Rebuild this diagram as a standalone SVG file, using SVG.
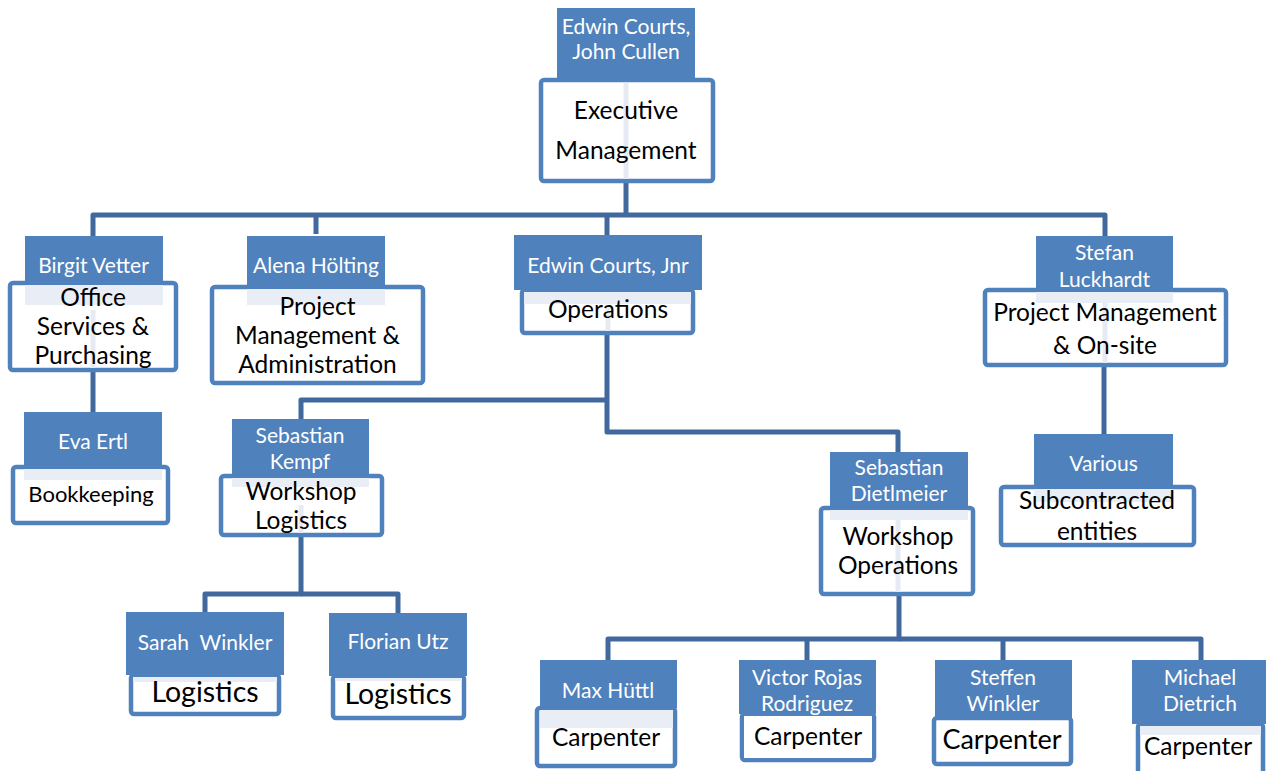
<svg xmlns="http://www.w3.org/2000/svg" width="1266" height="771" viewBox="0 0 1266 771">
<style>
.hd{fill:#4f81bd}
.bx{fill:#fff;stroke:#4f81bd;stroke-width:4.5}
.band{fill:#e9eef6}
.ghost{stroke:#e6ebf3;stroke-width:5}
.cn{fill:none;stroke:#41699d;stroke-width:5;stroke-linejoin:round}
text{font-family:Lato,"Open Sans","Liberation Sans",sans-serif;text-anchor:middle}
.n{fill:#fff;font-size:21px}
.t{fill:#000;font-size:24.5px}
.tl{fill:#000;font-size:28.5px}
.ts{fill:#000;font-size:22px}
.tc{fill:#000;font-size:27px}
</style>
<rect width="1266" height="771" fill="#fff"/>
<g id="connectors">
<path class="cn" d="M626 183 V215"/>
<path class="cn" d="M93 238 V215 H1105 V237"/>
<path class="cn" d="M316 215 V234"/>
<path class="cn" d="M607 215 V236"/>
<path class="cn" d="M93 372 V412"/>
<path class="cn" d="M1104 367 V434"/>
<path class="cn" d="M607 335 V432 H898 V452"/>
<path class="cn" d="M301 419 V400 H607"/>
<path class="cn" d="M301 537 V594 H205 V612"/>
<path class="cn" d="M301 594 H398 V613"/>
<path class="cn" d="M899 596 V639 H608 V660"/>
<path class="cn" d="M899 639 H1201 V660"/>
<path class="cn" d="M807 639 V660"/>
<path class="cn" d="M1003 639 V660"/>
</g>
<g id="n-exec">
<rect class="hd" x="557" y="8" width="138" height="70"/>
<rect class="bx" x="541" y="80" width="172" height="101" rx="3"/>
<line class="ghost" x1="626" y1="83" x2="626" y2="179"/>
<text class="n" x="626" y="34">Edwin Courts,</text>
<text class="n" x="626" y="59">John Cullen</text>
<text class="t" x="626" y="119">Executive</text>
<text class="t" x="626" y="159">Management</text>
</g>
<g id="n-office">
<rect class="hd" x="25" y="236" width="138" height="48"/>
<rect class="bx" x="10" y="283" width="166" height="87" rx="3"/>
<rect class="band" x="25" y="285" width="138" height="20"/>
<line class="ghost" x1="93" y1="310" x2="93" y2="368"/>
<text class="n" x="93.5" y="273">Birgit Vetter</text>
<text class="t" x="93" y="306">Office</text>
<text class="t" x="93" y="335">Services &amp;</text>
<text class="t" x="93" y="364">Purchasing</text>
</g>
<g id="n-pma">
<rect class="hd" x="247" y="236" width="138" height="52"/>
<rect class="bx" x="212" y="287" width="211" height="96" rx="3"/>
<rect class="band" x="247" y="289" width="138" height="16"/>
<text class="n" x="316" y="273">Alena Hölting</text>
<text class="t" x="317.5" y="315">Project</text>
<text class="t" x="317.5" y="344">Management &amp;</text>
<text class="t" x="317.5" y="373">Administration</text>
</g>
<g id="n-ops">
<rect class="hd" x="514" y="235" width="188" height="55"/>
<rect class="bx" x="522" y="290" width="171" height="43" rx="3"/>
<rect class="band" x="524" y="292" width="167" height="12"/>
<line class="ghost" x1="608" y1="305" x2="608" y2="331"/>
<text class="n" x="608" y="273">Edwin Courts, Jnr</text>
<text class="t" x="608" y="318">Operations</text>
</g>
<g id="n-pmo">
<rect class="hd" x="1036" y="236" width="137" height="54"/>
<rect class="bx" x="985" y="290" width="241" height="75" rx="3"/>
<rect class="band" x="1036" y="292" width="137" height="11"/>
<line class="ghost" x1="1105" y1="303" x2="1105" y2="363"/>
<text class="n" x="1104.5" y="260">Stefan</text>
<text class="n" x="1104.5" y="287">Luckhardt</text>
<text class="t" x="1105" y="321">Project Management</text>
<text class="t" x="1105" y="354">&amp; On-site</text>
</g>
<g id="n-sub">
<rect class="hd" x="1034" y="434" width="139" height="53"/>
<rect class="bx" x="1001" y="487" width="193" height="58" rx="3"/>
<rect class="band" x="1034" y="489" width="139" height="13"/>
<text class="n" x="1103.5" y="471">Various</text>
<text class="t" x="1097" y="509">Subcontracted</text>
<text class="t" x="1097" y="540">entities</text>
</g>
<g id="n-book">
<rect class="hd" x="24" y="412" width="138" height="55"/>
<rect class="bx" x="13" y="467" width="155" height="56" rx="3"/>
<rect class="band" x="24" y="469" width="138" height="11"/>
<text class="n" x="93" y="449">Eva Ertl</text>
<text class="ts" x="91" y="502">Bookkeeping</text>
</g>
<g id="n-wlog">
<rect class="hd" x="232" y="419" width="137" height="57"/>
<rect class="bx" x="221" y="476" width="161" height="59" rx="3"/>
<rect class="band" x="232" y="478" width="137" height="9"/>
<line class="ghost" x1="301" y1="505" x2="301" y2="533"/>
<text class="n" x="300" y="443">Sebastian</text>
<text class="n" x="300" y="469">Kempf</text>
<text class="t" x="301" y="500">Workshop</text>
<text class="t" x="301" y="529">Logistics</text>
</g>
<g id="n-wops">
<rect class="hd" x="830" y="452" width="138" height="56"/>
<rect class="bx" x="821" y="508" width="152" height="86" rx="3"/>
<rect class="band" x="830" y="510" width="138" height="10"/>
<line class="ghost" x1="898" y1="520" x2="898" y2="592"/>
<text class="n" x="899" y="475">Sebastian</text>
<text class="n" x="899" y="501">Dietlmeier</text>
<text class="t" x="898" y="545">Workshop</text>
<text class="t" x="898" y="574">Operations</text>
</g>
<g id="n-sarah">
<rect class="hd" x="126" y="612" width="158" height="63"/>
<rect class="bx" x="131" y="675" width="148" height="39" rx="3"/>
<rect class="band" x="133" y="677" width="144" height="5"/>
<text class="n" x="205" y="650" xml:space="preserve">Sarah  Winkler</text>
<text class="tl" x="205" y="702">Logistics</text>
</g>
<g id="n-florian">
<rect class="hd" x="329" y="613" width="138" height="63"/>
<rect class="bx" x="333" y="676" width="131" height="42" rx="3"/>
<rect class="band" x="335" y="678" width="127" height="3"/>
<text class="n" x="398" y="649">Florian Utz</text>
<text class="tl" x="398" y="704">Logistics</text>
</g>
<g id="n-max">
<rect class="hd" x="540" y="660" width="137" height="48"/>
<rect class="bx" x="537" y="708" width="138" height="58" rx="3"/>
<rect class="band" x="540" y="710" width="133" height="18"/>
<text class="n" x="608" y="698">Max Hüttl</text>
<text class="t" x="606" y="746">Carpenter</text>
</g>
<g id="n-victor">
<rect class="hd" x="739" y="660" width="137" height="54"/>
<rect class="bx" x="742" y="714" width="132" height="46" rx="3"/>
<text class="n" x="807" y="685">Victor Rojas</text>
<text class="n" x="807" y="711">Rodriguez</text>
<rect fill="#fff" x="744" y="716" width="128" height="42"/>
<text class="t" x="808" y="745">Carpenter</text>
</g>
<g id="n-steffen">
<rect class="hd" x="935" y="660" width="137" height="58"/>
<rect class="bx" x="934" y="718" width="137" height="46" rx="3"/>
<text class="n" x="1003" y="685">Steffen</text>
<text class="n" x="1003" y="711">Winkler</text>
<text class="tc" x="1002" y="749">Carpenter</text>
</g>
<g id="n-michael">
<rect class="hd" x="1132" y="660" width="134" height="64"/>
<rect class="bx" x="1138" y="724" width="125" height="52" rx="3"/>
<rect class="band" x="1140" y="726" width="121" height="9"/>
<text class="n" x="1200" y="685">Michael</text>
<text class="n" x="1200" y="711">Dietrich</text>
<text class="t" x="1198" y="755">Carpenter</text>
</g>
</svg>
